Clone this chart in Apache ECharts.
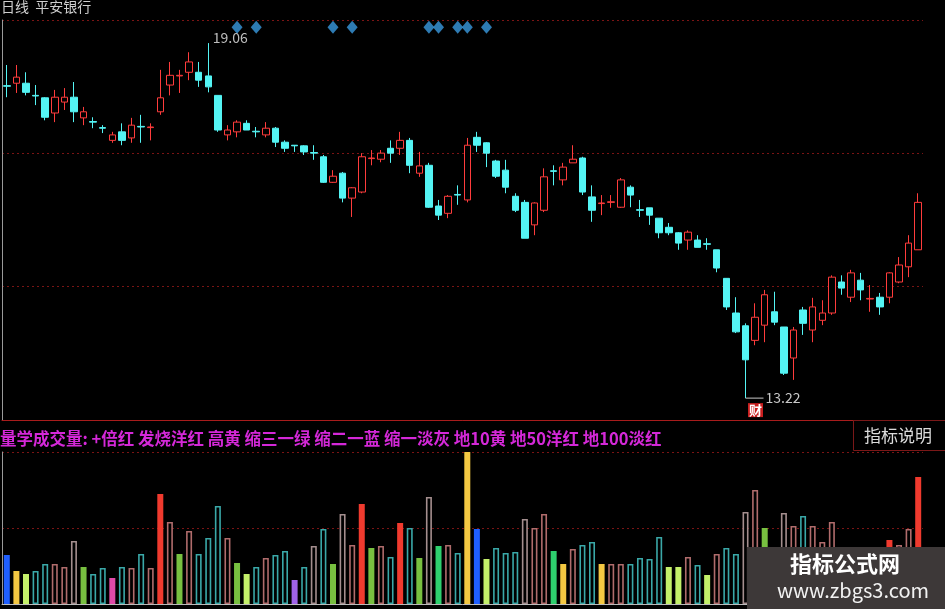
<!DOCTYPE html>
<html><head><meta charset="utf-8">
<script src="https://cdn.jsdelivr.net/npm/echarts@6/dist/echarts.min.js"></script>
<style>html,body{margin:0;padding:0;background:#000;}#c{width:945px;height:609px;}</style>
</head><body><div id="c"></div>
<script>
// ---- data ----
const days = [1,2,3,4,5,6,7,8,9,10,11,12,13,14,15,16,17,18,19,20,21,22,23,24,25,26,27,28,29,30,31,32,33,34,35,36,37,38,39,40,41,42,43,44,45,46,47,48,49,50,51,52,53,54,55,56,57,58,59,60,61,62,63,64,65,66,67,68,69,70,71,72,73,74,75,76,77,78,79,80,81,82,83,84,85,86,87,88,89,90,91,92,93,94,95,96].map(String);
const opens = [18.36,18.40,18.40,18.20,18.16,17.91,18.09,18.17,17.83,17.77,17.67,17.46,17.60,17.50,17.69,17.67,17.93,18.37,18.52,18.58,18.58,18.52,18.20,17.55,17.60,17.74,17.61,17.55,17.66,17.43,17.38,17.37,17.26,17.19,16.77,16.92,16.51,16.61,17.16,17.15,17.33,17.33,17.46,16.92,17.05,16.38,16.26,16.57,16.48,17.51,17.42,17.12,16.97,16.54,16.44,16.07,16.31,16.96,16.81,17.09,17.17,16.53,16.42,16.44,16.36,16.69,16.32,16.35,16.18,16.03,15.94,15.82,15.82,15.76,15.66,15.19,14.62,14.41,14.17,14.42,14.64,14.39,13.88,14.67,14.34,14.50,14.62,15.13,14.88,15.16,14.85,14.88,14.88,15.13,15.38,15.66];
const closes = [18.35,18.50,18.25,18.19,17.84,18.17,18.17,17.93,17.93,17.76,17.66,17.55,17.46,17.71,17.68,17.68,18.16,18.53,18.53,18.75,18.45,18.34,17.63,17.63,17.76,17.63,17.60,17.66,17.43,17.33,17.37,17.27,17.25,16.77,16.87,16.51,16.68,17.19,17.17,17.25,17.25,17.46,17.05,17.04,16.36,16.23,16.54,16.56,17.38,17.38,17.25,16.87,16.69,16.31,15.85,16.43,16.86,16.95,17.02,17.15,16.61,16.31,16.43,16.45,16.81,16.56,16.31,16.23,15.94,15.94,15.77,15.95,15.70,15.75,15.36,14.72,14.31,13.85,14.55,14.92,14.47,13.63,14.34,14.45,14.72,14.62,15.21,15.03,15.28,15.00,14.86,14.72,15.28,15.41,15.77,16.44];
const lows = [18.17,18.24,18.20,18.04,17.79,17.76,17.96,17.76,17.71,17.66,17.58,17.42,17.38,17.42,17.42,17.46,17.88,18.20,18.24,18.45,18.34,18.25,17.60,17.46,17.51,17.63,17.51,17.51,17.35,17.27,17.27,17.22,17.14,16.76,16.76,16.44,16.20,16.59,17.05,17.10,17.09,17.22,16.92,16.86,16.35,16.15,16.18,16.40,16.44,17.27,17.02,16.84,16.59,16.28,15.85,15.90,16.28,16.72,16.72,17.09,16.56,16.12,16.23,16.35,16.35,16.36,16.20,16.07,15.85,15.90,15.66,15.66,15.70,15.66,15.29,14.67,14.29,13.22,14.09,14.14,14.42,13.60,13.52,14.26,14.14,14.42,14.59,14.92,14.80,14.83,14.64,14.59,14.78,15.11,15.21,15.66];
const highs = [18.70,18.70,18.58,18.37,18.17,18.29,18.32,18.42,18.01,17.84,17.71,17.60,17.74,17.83,17.88,17.74,18.62,18.75,18.62,18.91,18.75,19.06,18.20,17.71,17.79,17.79,17.68,17.76,17.68,17.46,17.38,17.38,17.38,17.22,16.97,16.94,16.69,17.25,17.30,17.30,17.46,17.60,17.50,17.27,17.09,16.48,16.56,16.72,17.50,17.60,17.43,17.14,17.14,16.59,16.48,16.44,17.00,17.05,17.09,17.38,17.19,16.72,16.56,16.56,16.84,16.72,16.48,16.35,16.18,16.10,15.95,15.98,15.90,15.85,15.66,15.19,14.88,14.45,14.78,15.00,14.97,14.39,14.39,14.72,14.87,14.83,15.24,15.24,15.33,15.28,15.08,14.95,15.29,15.54,15.90,16.59];
const volumes = [49,33,30,33,40,40,37,63,37,30,36,26,37,36,50,36,110,82,50,73,50,66,98,66,41,30,37,46,49,53,24,37,58,75,40,90,59,100,56,58,47,81,76,46,107,58,59,51,153,75,45,56,51,52,85,76,90,53,40,55,59,62,40,40,40,40,46,45,67,37,37,47,39,29,50,56,50,92,114,76,45,91,78,88,78,62,82,40,50,45,35,40,64,59,75,127];
const volTypes = ['blue','yellow','lime','teal','teal','rose','rose','grayrose','green','teal','teal','magenta','teal','rose','teal','rose','red','rose','green','rose','teal','teal','teal','rose','green','lime','teal','rose','teal','teal','purple','teal','grayrose','teal','green','grayrose','rose','red','green','rose','teal','red','teal','green','grayrose','emerald','rose','teal','yellow','blue','lime','teal','teal','teal','grayrose','rose','rose','emerald','yellow','rose','teal','teal','yellow','rose','rose','teal','teal','teal','teal','lime','lime','rose','teal','lime','rose','teal','teal','grayrose','rose','green','teal','grayrose','rose','teal','rose','rose','rose','teal','rose','teal','rose','teal','red','rose','rose','red'];
const signalDays = [24,26,34,36,44,45,47,48,50];
const signalLevel = 19.32;
const highPoint = {day: 21, price: 19.06};
const lowPoint = {day: 77, price: 13.22};

// ---- styles ----
const UP = '#ff3c3c', DOWN = '#54f4f4';
const volStyle = {
  blue:{fill:'#1f5fff'}, yellow:{fill:'#f4c842'}, lime:{fill:'#c4f06a'}, green:{fill:'#78c040'},
  emerald:{fill:'#2ed06e'}, red:{fill:'#f03a2e'}, magenta:{fill:'#e04aa8'}, purple:{fill:'#a062e8'},
  teal:{border:'#3aa8a8'}, rose:{border:'#b06c6c'}, grayrose:{border:'#a48e8e'}
};
const FONT = '"Noto Sans CJK SC", "Noto Sans", sans-serif';
const gridDot = {color:'#7a1414', type:[2,3], width:1};

const chart = echarts.init(document.getElementById('c'), null, {renderer:'canvas'});
chart.setOption({
  backgroundColor:'#000',
  animation:false,
  grid:[
    {left:2, top:20, width:921, height:400, outerBoundsMode:'none'},
    {left:2, top:452, width:921, height:152, outerBoundsMode:'none'}
  ],
  xAxis:[
    {type:'category', gridIndex:0, data:days, boundaryGap:true,
     axisLine:{show:true, lineStyle:{color:'#a81c1c', width:1}}, axisTick:{show:false}, axisLabel:{show:false}, splitLine:{show:false}},
    {type:'category', gridIndex:1, data:days, boundaryGap:true,
     axisLine:{show:true, lineStyle:{color:'#bbbbbb', width:1}}, axisTick:{show:false}, axisLabel:{show:false}, splitLine:{show:false}}
  ],
  yAxis:[
    {type:'value', gridIndex:0, position:'left', min:12.86, max:19.44, show:false, splitLine:{show:false}},
    {type:'value', gridIndex:0, position:'left', min:0, max:3, interval:1, axisLine:{show:true, onZero:false, lineStyle:{color:'#9a9a9a'}},
     axisTick:{show:false}, axisLabel:{show:false}, splitLine:{show:true, lineStyle:gridDot}},
    {type:'value', gridIndex:1, position:'left', min:0, max:152, interval:76, axisLine:{show:true, lineStyle:{color:'#9a9a9a'}},
     axisTick:{show:false}, axisLabel:{show:false}, splitLine:{show:true, lineStyle:gridDot}}
  ],
  series:[
    {type:'candlestick', xAxisIndex:0, yAxisIndex:0, barWidth:7,
     itemStyle:{color:'#000', color0:DOWN, borderColor:UP, borderColor0:DOWN, borderWidth:1},
     data: days.map((d,i)=>[opens[i], closes[i], lows[i], highs[i]]),
     markPoint:{
       silent:true, animation:false,
       data:[
         {coord:[highPoint.day, highPoint.price], symbol:'rect', symbolSize:[1,1], itemStyle:{color:'rgba(0,0,0,0)'},
          label:{show:true, position:'right', distance:4, offset:[0,-5], formatter:highPoint.price.toFixed(2), color:'#bdbdbd', fontSize:14, fontFamily:FONT}},
         {coord:[lowPoint.day, lowPoint.price], symbol:'rect', symbolSize:[18,1], symbolOffset:[9,0], itemStyle:{color:'#c8c8c8'},
          label:{show:true, position:'right', distance:2, formatter:lowPoint.price.toFixed(2), color:'#c8c8c8', fontSize:14, fontFamily:FONT}},
         {coord:[lowPoint.day, lowPoint.price], symbol:'rect', symbolSize:[1,1], itemStyle:{color:'rgba(0,0,0,0)'},
          label:{show:true, position:'inside', offset:[10,12], formatter:'财', color:'#fff', backgroundColor:'#c81e1e', padding:[1,1,0,1], fontSize:13, fontWeight:'bold', fontFamily:FONT}}
       ]
     }
    },
    {type:'scatter', xAxisIndex:0, yAxisIndex:0, symbol:'diamond', symbolSize:[11,13],
     itemStyle:{color:'#3a9ae0'}, data: signalDays.map(i=>[i, signalLevel])},
    {type:'bar', xAxisIndex:1, yAxisIndex:2, barWidth:6,
     data: volumes.map((v,i)=>{
       const s = volStyle[volTypes[i]];
       return {value:v, itemStyle: s.fill ? {color:s.fill} : {color:'#000', borderColor:s.border, borderWidth:1.6}};
     })}
  ],
  graphic:[
    {type:'text', left:1, top:0, z:100, style:{text:'日线  平安银行', fill:'#cfcfcf', font:'14px '+FONT}},
    {type:'text', left:0, top:430, z:100, style:{text:'量学成交量: +倍红 发烧洋红 高黄 缩三一绿 缩二一蓝 缩一淡灰 地10黄 地50洋红 地100淡红', fill:'#d428d8', font:'bold 16.5px '+FONT}},
    {type:'rect', left:853, top:420, z:100, shape:{width:100, height:30}, style:{fill:'#000', stroke:'#7a1818', lineWidth:1}},
    {type:'text', left:864, top:427, z:101, style:{text:'指标说明', fill:'#dcdcdc', font:'17px '+FONT}},
    {type:'rect', left:747, top:547, z:100, shape:{width:200, height:64}, style:{fill:'#3d3838'}},
    {type:'text', left:790, top:553, z:101, style:{text:'指标公式网', fill:'#ffffff', font:'bold 22px '+FONT}},
    {type:'text', left:777, top:580, z:101, style:{text:'www.zbgs3.com', fill:'#f2f2f2', font:'20px '+FONT}}
  ]
});
</script>
</body></html>
